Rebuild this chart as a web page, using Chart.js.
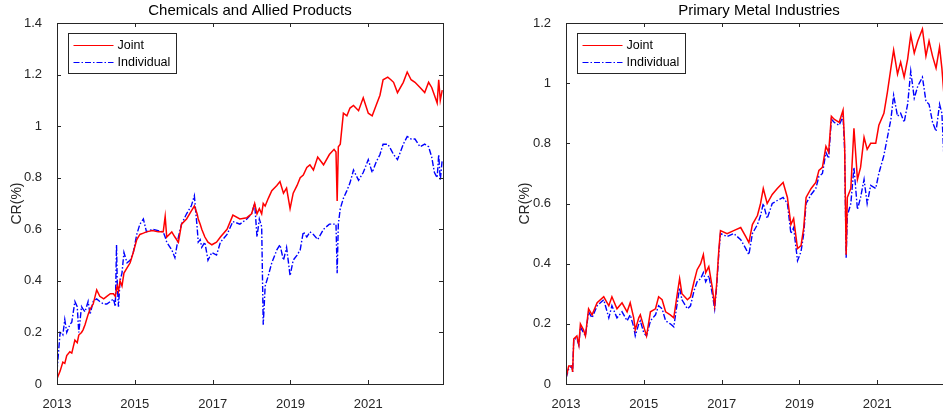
<!DOCTYPE html>
<html>
<head>
<meta charset="utf-8">
<script src="https://cdn.jsdelivr.net/npm/chart.js@4/dist/chart.umd.min.js"></script>
<style>
  html, body { margin: 0; padding: 0; background: #fff; overflow: hidden; }
  #wrap { position: relative; width: 943px; height: 411px; overflow: hidden; }
  #left { position: absolute; left: 0; top: 0; }
  #right { position: absolute; left: 510px; top: 0; }
</style>
</head>
<body>
<div id="wrap">
  <canvas id="left" width="470" height="411"></canvas>
  <canvas id="right" width="450" height="411"></canvas>
</div>
<script>
// --- data (x = decimal year) ---
const chemYears = [
  2013.00, 2013.08, 2013.15, 2013.20, 2013.25, 2013.33, 2013.38, 2013.46, 2013.52, 2013.56, 2013.63, 2013.67, 2013.72, 2013.80, 2013.85, 2013.93,
  2014.02, 2014.10, 2014.20, 2014.28, 2014.37, 2014.45, 2014.50, 2014.53, 2014.55, 2014.58, 2014.62, 2014.67, 2014.72, 2014.80, 2014.88, 2014.96,
  2015.05, 2015.13, 2015.22, 2015.30, 2015.45, 2015.60, 2015.73, 2015.78, 2015.82, 2015.95,
  2016.03, 2016.12, 2016.20, 2016.33, 2016.45, 2016.53, 2016.60, 2016.63, 2016.68, 2016.72, 2016.80, 2016.88, 2016.98,
  2017.10, 2017.20, 2017.37, 2017.52, 2017.70, 2017.88,
  2018.00, 2018.08, 2018.14, 2018.20, 2018.26, 2018.30, 2018.35, 2018.43, 2018.52, 2018.65, 2018.73, 2018.82, 2018.90, 2018.99,
  2019.07, 2019.17, 2019.25, 2019.33, 2019.42, 2019.50, 2019.59, 2019.70, 2019.85,
  2020.00, 2020.12, 2020.17, 2020.20, 2020.23, 2020.28, 2020.36, 2020.45, 2020.53, 2020.62, 2020.75, 2020.87,
  2021.00, 2021.10, 2021.20, 2021.30, 2021.38, 2021.50, 2021.58, 2021.65, 2021.75, 2021.90,
  2022.00, 2022.10, 2022.20, 2022.33, 2022.45, 2022.55, 2022.63, 2022.70, 2022.77, 2022.81, 2022.85, 2022.90
];
const chemJoint = [
  0.02, 0.05, 0.085, 0.08, 0.11, 0.125, 0.12, 0.17, 0.16, 0.19, 0.20, 0.21, 0.23, 0.27, 0.29, 0.31,
  0.365, 0.34, 0.33, 0.34, 0.35, 0.35, 0.34, 0.37, 0.38, 0.36, 0.40, 0.38, 0.43, 0.45, 0.47, 0.51,
  0.56, 0.58, 0.585, 0.59, 0.595, 0.59, 0.59, 0.65, 0.57, 0.59,
  0.57, 0.55, 0.62, 0.64, 0.67, 0.69, 0.66, 0.64, 0.62, 0.60, 0.57, 0.55, 0.54,
  0.55, 0.57, 0.60, 0.655, 0.64, 0.645,
  0.66, 0.70, 0.66, 0.68, 0.66, 0.70, 0.69, 0.72, 0.75, 0.77, 0.785, 0.74, 0.76, 0.68,
  0.74, 0.77, 0.80, 0.81, 0.84, 0.85, 0.83, 0.88, 0.85,
  0.89, 0.91, 0.90, 0.71, 0.92, 0.93, 1.05, 1.04, 1.07, 1.08, 1.06, 1.11,
  1.05, 1.04, 1.08, 1.12, 1.18, 1.19, 1.18, 1.17, 1.13, 1.17,
  1.21, 1.18, 1.17, 1.15, 1.13, 1.17, 1.15, 1.12, 1.09, 1.18, 1.10, 1.14
];
const chemIndividual = [
  0.05, 0.20, 0.19, 0.25, 0.20, 0.23, 0.24, 0.32, 0.30, 0.20, 0.30, 0.29, 0.28, 0.32, 0.27, 0.32,
  0.33, 0.32, 0.31, 0.31, 0.32, 0.33, 0.30, 0.54, 0.38, 0.30, 0.40, 0.43, 0.51, 0.47, 0.48, 0.51,
  0.58, 0.62, 0.64, 0.59, 0.60, 0.595, 0.59, 0.57, 0.55, 0.52,
  0.49, 0.57, 0.62, 0.66, 0.69, 0.73, 0.61, 0.55, 0.56, 0.53, 0.55, 0.48, 0.51,
  0.50, 0.55, 0.58, 0.63, 0.62, 0.64,
  0.66, 0.70, 0.57, 0.64, 0.61, 0.23, 0.38, 0.42, 0.47, 0.52, 0.54, 0.48, 0.53, 0.42,
  0.48, 0.50, 0.52, 0.59, 0.57, 0.59, 0.58, 0.56, 0.60,
  0.62, 0.62, 0.62, 0.43, 0.62, 0.68, 0.72, 0.75, 0.78, 0.83, 0.79, 0.82,
  0.87, 0.82, 0.86, 0.89, 0.93, 0.93, 0.91, 0.89, 0.87, 0.93,
  0.96, 0.95, 0.95, 0.92, 0.93, 0.92, 0.88, 0.82, 0.80, 0.89, 0.79, 0.87
];

const metalYears = [
  2013.00, 2013.07, 2013.15, 2013.17, 2013.20, 2013.28, 2013.33, 2013.37, 2013.45, 2013.50, 2013.58, 2013.67, 2013.80, 2013.97,
  2014.10, 2014.18, 2014.31, 2014.44, 2014.57, 2014.65, 2014.74, 2014.78, 2014.87, 2014.91,
  2015.00, 2015.07, 2015.17, 2015.30, 2015.38, 2015.47, 2015.56, 2015.68, 2015.77, 2015.86, 2015.92, 2015.98,
  2016.12, 2016.20, 2016.29, 2016.37, 2016.46, 2016.53, 2016.59, 2016.67, 2016.76, 2016.82, 2016.87, 2016.93, 2016.97,
  2017.14, 2017.31, 2017.49, 2017.62, 2017.70, 2017.79, 2017.92,
  2018.00, 2018.07, 2018.17, 2018.30, 2018.43, 2018.58, 2018.69, 2018.78, 2018.85, 2018.95,
  2019.04, 2019.11, 2019.17, 2019.30, 2019.42, 2019.50, 2019.59, 2019.68, 2019.75, 2019.82, 2019.89,
  2020.02, 2020.12, 2020.16, 2020.20, 2020.23, 2020.32, 2020.40, 2020.49, 2020.57, 2020.66, 2020.74, 2020.83, 2020.96,
  2021.04, 2021.17, 2021.26, 2021.35, 2021.42, 2021.52, 2021.60, 2021.69, 2021.78, 2021.86, 2021.95,
  2022.04, 2022.16, 2022.25, 2022.33, 2022.42, 2022.51, 2022.60, 2022.66, 2022.72
];
const metalJoint = [
  0.02, 0.06, 0.06, 0.04, 0.15, 0.16, 0.13, 0.20, 0.18, 0.16, 0.25, 0.23, 0.27, 0.29,
  0.26, 0.29, 0.25, 0.27, 0.24, 0.27, 0.22, 0.18, 0.22, 0.23,
  0.19, 0.16, 0.24, 0.25, 0.29, 0.28, 0.24, 0.23, 0.22, 0.30, 0.35, 0.30,
  0.28, 0.29, 0.34, 0.38, 0.40, 0.43, 0.37, 0.39, 0.32, 0.26, 0.33, 0.45, 0.51,
  0.50, 0.51, 0.52, 0.49, 0.47, 0.53, 0.56,
  0.60, 0.65, 0.60, 0.63, 0.65, 0.67, 0.62, 0.53, 0.55, 0.45,
  0.46, 0.52, 0.62, 0.65, 0.67, 0.71, 0.72, 0.79, 0.77, 0.89, 0.88,
  0.87, 0.91, 0.80, 0.43, 0.62, 0.65, 0.85, 0.68, 0.72, 0.82, 0.78, 0.80, 0.80,
  0.86, 0.90, 0.97, 1.05, 1.11, 1.03, 1.07, 1.02, 1.08, 1.16, 1.10,
  1.14, 1.18, 1.09, 1.14, 1.09, 1.05, 1.12, 1.05, 0.95
];
const metalIndividual = [
  0.02, 0.05, 0.06, 0.04, 0.15, 0.15, 0.13, 0.19, 0.17, 0.16, 0.24, 0.22, 0.26, 0.28,
  0.22, 0.26, 0.22, 0.24, 0.21, 0.23, 0.19, 0.16, 0.20, 0.21,
  0.17, 0.16, 0.21, 0.23, 0.26, 0.25, 0.21, 0.20, 0.19, 0.27, 0.32, 0.28,
  0.25, 0.26, 0.31, 0.34, 0.35, 0.37, 0.34, 0.36, 0.30, 0.25, 0.32, 0.44, 0.50,
  0.49, 0.50, 0.48, 0.45, 0.43, 0.50, 0.53,
  0.56, 0.60, 0.55, 0.60, 0.61, 0.62, 0.60, 0.50, 0.52, 0.41,
  0.44, 0.50, 0.60, 0.63, 0.65, 0.69, 0.70, 0.77, 0.75, 0.88, 0.87,
  0.86, 0.89, 0.78, 0.42, 0.56, 0.60, 0.72, 0.58, 0.62, 0.68, 0.60, 0.66, 0.65,
  0.70, 0.76, 0.82, 0.88, 0.96, 0.89, 0.90, 0.87, 0.93, 1.04, 0.95,
  0.99, 1.02, 0.94, 0.93, 0.87, 0.84, 0.93, 0.90, 0.73
];

const seriesNames = ['Joint', 'Individual'];
const xTicks = [2013, 2015, 2017, 2019, 2021];
const chemYTicks = [0, 0.2, 0.4, 0.6, 0.8, 1, 1.2, 1.4];
const metalYTicks = [0, 0.2, 0.4, 0.6, 0.8, 1, 1.2];

const axisColor = '#262626';
const fontFamily = '"Liberation Sans", Arial, Helvetica, sans-serif';
const dashDot = [6, 2, 1.5, 2];

// box, inward ticks on all four sides and a MATLAB-like legend
const matlabAxes = {
  id: 'matlabAxes',
  afterDraw(chart) {
    const { ctx, chartArea: a, scales } = chart;
    const len = 4;
    ctx.save();
    ctx.strokeStyle = axisColor;
    ctx.lineWidth = 1;
    ctx.setLineDash([]);
    ctx.strokeRect(Math.round(a.left) + 0.5, Math.round(a.top) + 0.5,
      Math.round(a.right - a.left), Math.round(a.bottom - a.top));
    ctx.beginPath();
    scales.x.ticks.forEach(t => {
      const px = Math.round(scales.x.getPixelForValue(t.value)) + 0.5;
      ctx.moveTo(px, a.bottom); ctx.lineTo(px, a.bottom - len);
      ctx.moveTo(px, a.top); ctx.lineTo(px, a.top + len);
    });
    scales.y.ticks.forEach(t => {
      const py = Math.round(scales.y.getPixelForValue(t.value)) + 0.5;
      ctx.moveTo(a.left, py); ctx.lineTo(a.left + len, py);
      ctx.moveTo(a.right, py); ctx.lineTo(a.right - len, py);
    });
    ctx.stroke();

    // legend
    const lx = Math.round(a.left) + 11.5, ly = Math.round(a.top) + 10.5;
    ctx.fillStyle = '#fff';
    ctx.fillRect(lx, ly, 108, 40);
    ctx.strokeStyle = axisColor;
    ctx.strokeRect(lx, ly, 108, 40);
    ctx.font = '12.5px ' + fontFamily;
    ctx.textBaseline = 'middle';
    chart.data.datasets.forEach((ds, i) => {
      const y = ly + 12 + i * 17;
      ctx.strokeStyle = ds.borderColor;
      ctx.lineWidth = 1.2;
      ctx.setLineDash(ds.borderDash || []);
      ctx.beginPath();
      ctx.moveTo(lx + 5, y); ctx.lineTo(lx + 45, y);
      ctx.stroke();
      ctx.fillStyle = '#000';
      ctx.fillText(ds.label, lx + 49, y + 0.5);
    });
    ctx.restore();
  }
};

function makeChart(id, title, years, joint, indiv, yTicks, yMax, pad) {
  return new Chart(document.getElementById(id), {
    type: 'line',
    data: {
      datasets: [
        {
          label: seriesNames[0],
          data: years.map((x, i) => ({ x: x, y: joint[i] })),
          borderColor: '#ff0000',
          borderWidth: 1.5,
          pointRadius: 0,
          tension: 0
        },
        {
          label: seriesNames[1],
          data: years.map((x, i) => ({ x: x, y: indiv[i] })),
          borderColor: '#0000ff',
          borderWidth: 1.4,
          borderDash: dashDot,
          pointRadius: 0,
          tension: 0
        }
      ]
    },
    options: {
      responsive: false,
      animation: false,
      layout: { padding: { left: pad.left, right: pad.right, top: 0, bottom: 0 } },
      plugins: {
        legend: { display: false },
        tooltip: { enabled: false },
        title: {
          display: true,
          text: title,
          fullSize: false,
          color: '#000',
          font: { family: fontFamily, size: 15, weight: 'normal' },
          padding: { top: 2, bottom: 3 }
        }
      },
      scales: {
        x: {
          type: 'linear',
          min: 2013,
          max: 2022.92,
          grid: { display: false },
          border: { display: false },
          afterBuildTicks: s => { s.ticks = xTicks.map(v => ({ value: v })); },
          afterFit: s => { s.height = 27; },
          ticks: {
            color: axisColor,
            padding: 5,
            maxRotation: 0,
            font: { family: fontFamily, size: 13 },
            callback: v => String(v)
          }
        },
        y: {
          min: 0,
          max: yMax,
          grid: { display: false },
          border: { display: false },
          afterBuildTicks: s => { s.ticks = yTicks.map(v => ({ value: v })); },
          afterFit: s => { s.width = pad.yWidth; },
          title: {
            display: true,
            text: 'CR(%)',
            color: axisColor,
            padding: 0,
            font: { family: fontFamily, size: 14 }
          },
          ticks: {
            color: axisColor,
            padding: 7,
            font: { family: fontFamily, size: 13 },
            callback: v => String(+v.toFixed(1))
          }
        }
      }
    },
    plugins: [matlabAxes]
  });
}

makeChart('left', 'Chemicals and Allied Products', chemYears, chemJoint, chemIndividual,
  chemYTicks, 1.4, { left: 9, right: 27, yWidth: 48 });
makeChart('right', 'Primary Metal Industries', metalYears, metalJoint, metalIndividual,
  metalYTicks, 1.2, { left: 7, right: 8, yWidth: 49 });
</script>
</body>
</html>
